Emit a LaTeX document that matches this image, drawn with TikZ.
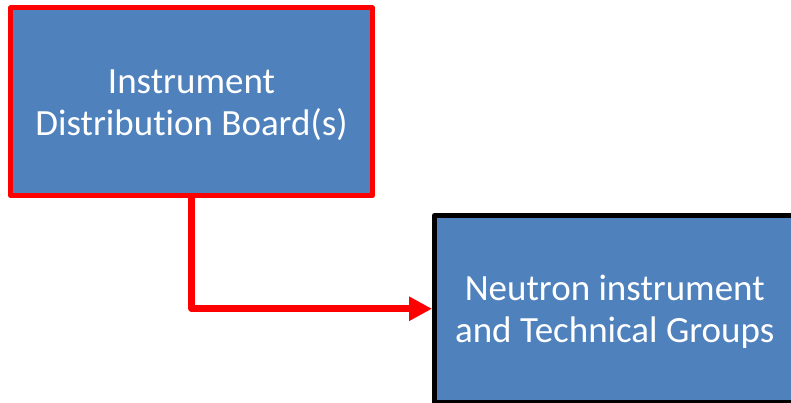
\documentclass[tikz,border=0pt]{standalone}
\usepackage{fontspec}
\setmainfont[Ligatures={NoCommon}]{Carlito}
\usetikzlibrary{arrows.meta}
\definecolor{boxblue}{HTML}{4F81BD}
\definecolor{linkred}{HTML}{FF0000}
% strut that balances the descenders of the last line
\newcommand{\topstrut}{\rule{0pt}{31pt}}
\tikzset{
  blockbox/.style={rectangle, fill=boxblue, line width=5pt, line join=round,
    inner sep=0pt, text=white, align=center,
    font=\fontsize{37}{42.5}\selectfont},
  redbox/.style={blockbox, draw=linkred},
  blackbox/.style={blockbox, draw=black},
  conn/.style={draw=linkred, line width=7pt, line join=round,
    -{Triangle[length=23pt,width=23pt]}}
}
\begin{document}
\begin{tikzpicture}[x=1pt,y=-1pt]
  \useasboundingbox (0,0) rectangle (791,403);
  \clip (0,0) rectangle (791,403);
  \node[redbox, minimum width=362pt, minimum height=187.5pt] (idb)
    at (191.5,101.75) {\topstrut Instrument\\Distribution Board(s)};
  \node[blackbox, minimum width=360.5pt, minimum height=186.5pt] (ntg)
    at (614.75,308.75) {\topstrut Neutron instrument\\and Technical Groups};
  \draw[conn] (idb.south) |- (ntg.west);
\end{tikzpicture}
\end{document}
